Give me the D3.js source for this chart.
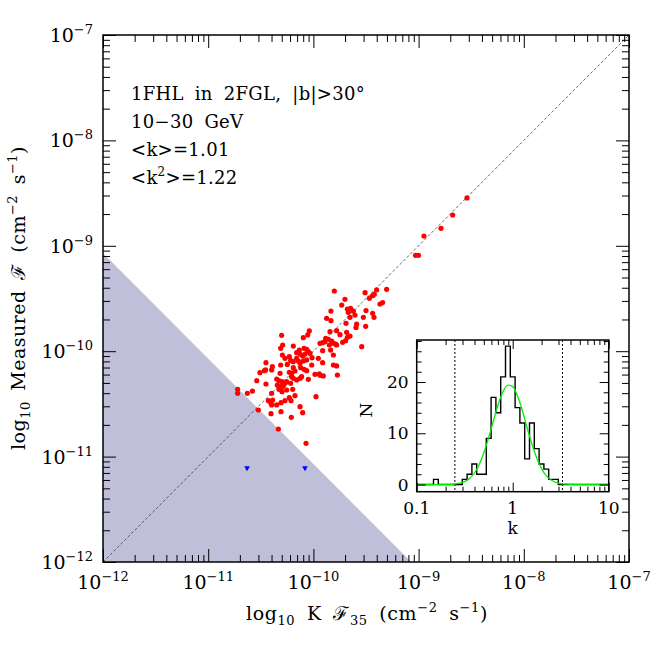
<!DOCTYPE html>
<html><head><meta charset="utf-8">
<script src="https://cdn.jsdelivr.net/npm/d3@7"></script>
<style>
body{margin:0;background:#fff}
svg{display:block}
text{font-family:"DejaVu Serif","Liberation Serif",serif;fill:#000}
</style>
</head><body><svg id="c" width="664" height="664"></svg>
<script>
// ---------- data (log10 values) ----------
const logK = [-9.801,-9.509,-9.304,-9.399,-9.700,-9.468,-9.437,-9.421,-9.342,-9.367,
-9.731,-9.646,-9.677,-9.668,-9.620,-9.500,-9.833,-9.652,-9.605,-9.437,
-9.424,-9.874,-9.833,-9.525,-9.589,-9.595,-9.690,-9.503,-9.779,-9.842,
-10.039,-10.054,-10.096,-9.684,-9.652,-9.677,-9.747,-10.302,-9.883,-9.858,
-9.826,-9.810,-9.788,-9.779,-9.849,-9.890,-9.912,-9.937,-9.693,-9.722,
-10.292,-10.311,-10.191,-10.134,-9.541,-9.836,-9.912,-9.810,-10.089,-10.064,
-10.048,-10.032,-10.080,-10.159,-10.127,-10.102,-10.295,-10.270,-10.229,-10.159,
-10.143,-10.013,-9.953,-10.216,-10.191,-10.127,-10.096,-10.064,-10.451,-10.390,
-10.397,-10.311,-10.248,-10.191,-10.121,-10.089,-10.016,-9.912,-9.810,-9.779,
-10.508,-10.466,-10.317,-10.229,-10.207,-10.175,-10.064,-9.985,-9.944,-9.906,
-9.772,-10.539,-10.349,-10.327,-10.298,-10.270,-10.254,-10.207,-10.191,-10.159,
-10.127,-10.112,-10.048,-10.451,-10.343,-10.317,-10.286,-10.216,-10.720,-10.720,
-10.628,-10.580,-10.397,-10.327,-10.298,-10.254,-10.197,-10.428,-10.387,-10.403,
-10.349,-10.397,-10.308,-10.270,-10.229,-10.175,-10.213,-9.975,-10.523,-10.308,
-10.403,-10.127,-10.102,-10.210,-10.333,-10.070,-8.540,-8.676,-8.787,-8.949,
-9.029,-9.001,-10.454,-9.937,-10.302];
const logMeasured = [-9.429,-9.445,-9.413,-9.419,-9.508,-9.498,-9.473,-9.460,-9.539,-9.552,
-9.562,-9.593,-9.600,-9.631,-9.619,-9.615,-9.619,-9.679,-9.657,-9.641,
-9.679,-9.688,-9.710,-9.679,-9.742,-9.774,-9.736,-9.764,-9.805,-9.815,
-9.808,-9.846,-9.872,-9.821,-9.856,-9.868,-9.843,-9.849,-9.878,-9.887,
-9.903,-9.925,-9.932,-9.941,-9.941,-9.910,-9.919,-9.925,-9.900,-9.916,
-9.941,-9.973,-9.951,-9.989,-9.957,-9.989,-9.995,-10.036,-9.973,-9.982,
-10.004,-10.020,-10.027,-10.014,-10.027,-10.046,-10.036,-10.068,-10.052,-10.068,
-10.093,-10.061,-10.068,-10.090,-10.099,-10.115,-10.093,-10.083,-10.109,-10.147,
-10.178,-10.131,-10.125,-10.156,-10.156,-10.172,-10.131,-10.109,-10.131,-10.140,
-10.204,-10.185,-10.210,-10.200,-10.210,-10.188,-10.185,-10.219,-10.216,-10.235,
-10.226,-10.280,-10.264,-10.280,-10.289,-10.305,-10.289,-10.242,-10.257,-10.273,
-10.257,-10.242,-10.267,-10.311,-10.321,-10.337,-10.330,-10.305,-10.362,-10.400,
-10.400,-10.378,-10.400,-10.362,-10.384,-10.368,-10.362,-10.469,-10.463,-10.495,
-10.510,-10.510,-10.488,-10.469,-10.441,-10.422,-10.469,-10.431,-10.558,-10.574,
-10.593,-10.526,-10.583,-10.627,-10.738,-10.874,-8.546,-8.708,-8.834,-8.907,
-9.090,-9.090,-10.178,-10.229,-10.343];
// upper limits
const limitLogK = [-10.631, -10.080];
const limitLogMeasured = [-11.108, -11.108];
// excluded (shaded) region corners, log10
const shadeLogK = [-12, -12, -9.07];
const shadeLogMeasured = [-12, -9.07, -12];
const mainDecades = [-12, -11, -10, -9, -8, -7];
const annotationLines = ["1FHL in 2FGL, |b|>30°", "10−30 GeV", "<k>=1.01", null];

// inset histogram: lower bin edges (log10 k), bin width 0.05
const binLogLo = [-0.825,-0.525,-0.475,-0.425,-0.375,-0.325,-0.275,-0.225,-0.175,-0.125,-0.075,
                  -0.025,0.025,0.075,0.125,0.175,0.225,0.275,0.325,0.375,0.425];
const binCounts = [1,1,2,4,2,2,9,17,14,21,27,21,15,12,5,12,7,4,3,1,1];
const binWidth = 0.05;
// gaussian fit curve
const fitLogK = [-1,-0.65,-0.6,-0.55,-0.5,-0.45,-0.4,-0.35,-0.3,-0.25,-0.2,-0.15,-0.1,-0.05,0,
                 0.05,0.1,0.15,0.2,0.25,0.3,0.35,0.4,0.45,0.5,0.55,0.6,0.65,1];
const fitN = [0,0,0.1,0.26,0.57,1.17,2.2,3.86,6.2,9.2,12.5,15.7,18.2,19.4,19.1,
              17.3,14.5,11.1,7.9,5.2,3.1,1.7,0.89,0.42,0.18,0.08,0.03,0,0];
const kLimits = [0.25, 3.3];
const insetYTicks = [0, 10, 20];
const insetXTicks = [0.1, 1, 10];
const insetXLabels = ["0.1", "1", "10"];

// ---------- drawing ----------
const svg = d3.select("#c");
const L = 103, R = 629, T = 35, B = 562;
const x = d3.scaleLog().domain([1e-12, 1e-7]).range([L, R]);
const y = d3.scaleLog().domain([1e-12, 1e-7]).range([B, T]);

function rich(t, parts, supSize, subSize) {
  let shift = 0;
  parts.forEach(([s, kind]) => {
    let target = kind === "sup" ? -8 : kind === "sub" ? 5 : 0;
    const ts = t.append("tspan").attr("dy", target - shift).text(s);
    if (kind === "sup") ts.attr("font-size", supSize || 13);
    if (kind === "sub") ts.attr("font-size", subSize || 13);
    shift = target;
  });
}

// shaded region
svg.append("path")
  .attr("d", d3.line()(shadeLogK.map((v, i) => [x(10 ** v), y(10 ** shadeLogMeasured[i])])) + "Z")
  .attr("fill", "#bfbfd9");

// diagonal
svg.append("line")
  .attr("x1", x(1e-12)).attr("y1", y(1e-12)).attr("x2", x(1e-7)).attr("y2", y(1e-7))
  .attr("stroke", "#444").attr("stroke-width", 0.8).attr("stroke-dasharray", "3,2");

// points
svg.append("g").selectAll("circle").data(logK).join("circle")
  .attr("cx", d => x(10 ** d)).attr("cy", (d, i) => y(10 ** logMeasured[i]))
  .attr("r", 2.6).attr("fill", "#ff0000");

svg.append("g").selectAll("path").data(limitLogK).join("path")
  .attr("d", d3.symbol(d3.symbolTriangle, 14))
  .attr("transform", (d, i) => `translate(${x(10 ** d)},${y(10 ** limitLogMeasured[i])}) rotate(180)`)
  .attr("fill", "#0000ff");

// ticks
const major = mainDecades.map(e => 10 ** e);
const minor = [];
mainDecades.slice(0, -1).forEach(e => { for (let k = 2; k <= 9; k++) minor.push(k * 10 ** e); });
function ticks(axisFn, scale, vals, len, tr) {
  const g = svg.append("g").attr("transform", tr)
    .call(axisFn(scale).tickValues(vals).tickSize(len).tickFormat(""));
  g.select(".domain").remove();
  g.selectAll("line").attr("stroke", "#000").attr("stroke-width", 1);
}
ticks(d3.axisBottom, x, major, -13, `translate(0,${B})`);
ticks(d3.axisBottom, x, minor, -7, `translate(0,${B})`);
ticks(d3.axisTop, x, major, -13, `translate(0,${T})`);
ticks(d3.axisTop, x, minor, -7, `translate(0,${T})`);
ticks(d3.axisLeft, y, major, -13, `translate(${L},0)`);
ticks(d3.axisLeft, y, minor, -7, `translate(${L},0)`);
ticks(d3.axisRight, y, major, -13, `translate(${R},0)`);
ticks(d3.axisRight, y, minor, -7, `translate(${R},0)`);

svg.append("rect").attr("x", L).attr("y", T).attr("width", R - L).attr("height", B - T)
  .attr("fill", "none").attr("stroke", "#000").attr("stroke-width", 1.5);

// tick labels
mainDecades.forEach(e => {
  const tx = svg.append("text").attr("x", x(10 ** e)).attr("y", B + 27)
    .attr("text-anchor", "middle").attr("font-size", 19);
  rich(tx, [["10", "n"], ["−" + (-e), "sup"]]);
  const ty = svg.append("text").attr("x", L - 10).attr("y", y(10 ** e) + 7)
    .attr("text-anchor", "end").attr("font-size", 19);
  rich(ty, [["10", "n"], ["−" + (-e), "sup"]]);
});

// axis titles
const xt = svg.append("text").attr("x", 367).attr("y", 620).attr("text-anchor", "middle")
  .attr("font-size", 19).attr("letter-spacing", 0.6).attr("word-spacing", 5);
rich(xt, [["log", "n"], ["10", "sub"], [" K ℱ", "n"], ["35", "sub"], [" (cm", "n"], ["−2", "sup"], [" s", "n"], ["−1", "sup"], [")", "n"]]);
const yt = svg.append("text").attr("transform", "translate(25,298) rotate(-90)").attr("text-anchor", "middle")
  .attr("font-size", 19).attr("letter-spacing", 0.5).attr("word-spacing", 4);
rich(yt, [["log", "n"], ["10", "sub"], [" Measured ℱ (cm", "n"], ["−2", "sup"], [" s", "n"], ["−1", "sup"], [")", "n"]]);

// annotations
const annY = [100, 128, 156, 184];
annotationLines.forEach((s, i) => {
  const t = svg.append("text").attr("x", 131).attr("y", annY[i]).attr("font-size", 18)
    .attr("word-spacing", 5).attr("letter-spacing", 0.3);
  if (s) t.text(s);
  else rich(t, [["<k", "n"], ["2", "sup"], [">=1.22", "n"]], 12);
});

// ---------- inset ----------
const IL = 416.7, IR = 608.7, IT = 340, IB = 491.7;
const ix = d3.scaleLog().domain([0.1, 10]).range([IL, IR]);
const iy = d3.scaleLinear().domain([-1.4, 28.2]).range([IB, IT]);

svg.append("rect").attr("x", IL).attr("y", IT).attr("width", IR - IL).attr("height", IB - IT).attr("fill", "#fff");

// limits
kLimits.forEach(k => svg.append("line").attr("x1", ix(k)).attr("x2", ix(k)).attr("y1", IT).attr("y2", IB)
  .attr("stroke", "#000").attr("stroke-width", 1).attr("stroke-dasharray", "2,2"));

// histogram
const hp = [[-1, 0]];
binLogLo.forEach((lo, i) => {
  hp.push([lo, binCounts[i]]);
  const hi = +(lo + binWidth).toFixed(3);
  if (i === binLogLo.length - 1 || Math.abs(binLogLo[i + 1] - hi) > 1e-6) hp.push([hi, 0]);
});
hp.push([1, 0]);
svg.append("path")
  .attr("d", d3.line().x(d => ix(10 ** d[0])).y(d => iy(d[1])).curve(d3.curveStepAfter)(hp))
  .attr("fill", "none").attr("stroke", "#000").attr("stroke-width", 1.4);

// fit
svg.append("path")
  .attr("d", d3.line().x((d, i) => ix(10 ** d)).y((d, i) => iy(fitN[i])).curve(d3.curveMonotoneX)(fitLogK))
  .attr("fill", "none").attr("stroke", "#00ee00").attr("stroke-width", 1.3);

// inset ticks
const iMinorX = [];
[-1, 0].forEach(e => { for (let k = 2; k <= 9; k++) iMinorX.push(k * 10 ** e); });
const iMinorY = d3.range(2, 29, 2).filter(v => v % 10 !== 0);
function iticks(axisFn, scale, vals, len, tr) {
  const g = svg.append("g").attr("transform", tr)
    .call(axisFn(scale).tickValues(vals).tickSize(len).tickFormat(""));
  g.select(".domain").remove();
  g.selectAll("line").attr("stroke", "#000").attr("stroke-width", 1);
}
iticks(d3.axisBottom, ix, insetXTicks, -9, `translate(0,${IB})`);
iticks(d3.axisBottom, ix, iMinorX, -5, `translate(0,${IB})`);
iticks(d3.axisTop, ix, insetXTicks, -9, `translate(0,${IT})`);
iticks(d3.axisTop, ix, iMinorX, -5, `translate(0,${IT})`);
iticks(d3.axisLeft, iy, insetYTicks, -9, `translate(${IL},0)`);
iticks(d3.axisLeft, iy, iMinorY, -5, `translate(${IL},0)`);
iticks(d3.axisRight, iy, insetYTicks, -9, `translate(${IR},0)`);
iticks(d3.axisRight, iy, iMinorY, -5, `translate(${IR},0)`);

svg.append("rect").attr("x", IL).attr("y", IT).attr("width", IR - IL).attr("height", IB - IT)
  .attr("fill", "none").attr("stroke", "#000").attr("stroke-width", 1.5);

insetYTicks.forEach(v => svg.append("text").attr("x", IL - 8).attr("y", iy(v) + 6)
  .attr("text-anchor", "end").attr("font-size", 17).text(v));
insetXTicks.forEach((v, i) => svg.append("text").attr("x", ix(v)).attr("y", IB + 22)
  .attr("text-anchor", "middle").attr("font-size", 17).text(insetXLabels[i]));
svg.append("text").attr("transform", "translate(372,410) rotate(-90)").attr("text-anchor", "middle")
  .attr("font-size", 17).text("N");
svg.append("text").attr("x", ix(1)).attr("y", 534).attr("text-anchor", "middle").attr("font-size", 17).text("k");
</script></body></html>
